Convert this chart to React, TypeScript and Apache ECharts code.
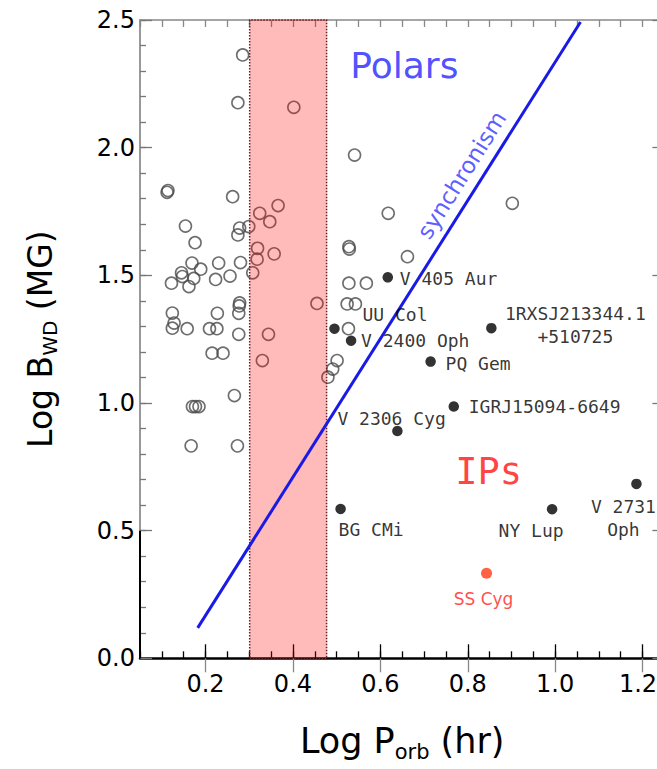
import React, { useEffect, useRef } from 'react';
import * as echarts from 'echarts';

// ---- Data (log P_orb [hr], log B_WD [MG]) ----
// Polars (open circles)
const polarLogP = [
  0.112, 0.114, 0.262, 0.154, 0.176, 0.278, 0.274, 0.299, 0.324, 0.347,
  0.366, 0.319, 0.318, 0.357, 0.308, 0.280, 0.256, 0.230, 0.223, 0.169,
  0.189, 0.145, 0.147, 0.122, 0.162, 0.173, 0.285, 0.274, 0.402, 0.541,
  0.618, 0.902, 0.528, 0.529, 0.662, 0.528, 0.568, 0.455, 0.524, 0.543,
  0.527, 0.278, 0.277, 0.124, 0.227, 0.276, 0.128, 0.124, 0.158, 0.209,
  0.226, 0.276, 0.344, 0.215, 0.240, 0.330, 0.501, 0.491, 0.480, 0.266,
  0.170, 0.177, 0.185, 0.167, 0.273,
];
const polarLogB = [
  1.825, 1.832, 1.808, 1.693, 1.628, 1.685, 1.658, 1.691, 1.743, 1.710,
  1.773, 1.606, 1.563, 1.584, 1.510, 1.550, 1.497, 1.548, 1.484, 1.548,
  1.524, 1.510, 1.495, 1.469, 1.456, 1.488, 2.363, 2.176, 2.158, 1.971,
  1.743, 1.782, 1.612, 1.603, 1.573, 1.469, 1.469, 1.390, 1.388, 1.388,
  1.291, 1.392, 1.380, 1.352, 1.351, 1.351, 1.313, 1.293, 1.291, 1.291,
  1.291, 1.269, 1.269, 1.195, 1.195, 1.166, 1.166, 1.133, 1.101, 1.029,
  0.986, 0.986, 0.986, 0.832, 0.832,
];

// Intermediate polars (filled circles)
const ipNames = [
  'V 405 Aur', 'UU Col', 'V 2400 Oph', '1RXSJ213344.1\n+510725', 'PQ Gem',
  'IGRJ15094-6649', 'V 2306 Cyg', 'BG CMi', 'NY Lup', 'V 2731\nOph',
];
const ipLogP = [0.617, 0.495, 0.533, 0.854, 0.715, 0.768, 0.639, 0.509, 0.993, 1.186];
const ipLogB = [1.492, 1.291, 1.244, 1.293, 1.162, 0.986, 0.890, 0.585, 0.584, 0.683];

// Dwarf nova
const dnNames = ['SS Cyg'];
const dnLogP = [0.843];
const dnLogB = [0.333];

// Period gap (2-3 hr)
const gapLogP = [0.301, 0.477];

// Synchronism line
const syncLogP = [0.182, 1.058];
const syncLogB = [0.119, 2.492];

// Region annotations
const regionNames = ['Polars', 'IPs', 'synchronism'];
const regionLogP = [0.655, 0.848, 0.786];
const regionLogB = [2.32, 0.73, 1.893];

// Axes
const xMin = 0.05;
const xMax = 1.25;
const xMajorTicks = [0.2, 0.4, 0.6, 0.8, 1.0, 1.2];
const yMin = 0;
const yMax = 2.5;
const yMajorTicks = [0, 0.5, 1.0, 1.5, 2.0, 2.5];
const yDarkAxisPart = [0, 0.5];

// ---- label placement (pixels relative to the marker) ----
const ipLabelPlace: Record<string, { align: string; dx: number; dy: number }> = {
  'V 405 Aur': { align: 'left', dx: 12, dy: 1 },
  'UU Col': { align: 'left', dx: 28, dy: -14 },
  'V 2400 Oph': { align: 'left', dx: 10, dy: 0 },
  '1RXSJ213344.1\n+510725': { align: 'center', dx: 84, dy: -3 },
  'PQ Gem': { align: 'left', dx: 15, dy: 2 },
  'IGRJ15094-6649': { align: 'left', dx: 15, dy: 0 },
  'V 2306 Cyg': { align: 'left', dx: -60, dy: -13 },
  'BG CMi': { align: 'left', dx: -2, dy: 21 },
  'NY Lup': { align: 'center', dx: -21, dy: 21 },
  'V 2731\nOph': { align: 'center', dx: -13, dy: 34 },
};

const regionStyle: Record<string, any> = {
  Polars: { fontSize: 36, color: '#2222ff', fontFamily: 'DejaVu Sans', rotate: 0 },
  IPs: { fontSize: 37, color: '#ff1010', fontFamily: 'DejaVu Sans Mono', rotate: 0 },
  synchronism: { fontSize: 23, color: '#3333ff', fontFamily: 'DejaVu Sans', rotate: 57.7 },
};

const SANS = 'DejaVu Sans';
const MONO = 'DejaVu Sans Mono';

const isMultiple = (v: number, step: number) => Math.abs(v / step - Math.round(v / step)) < 1e-6;

export default function App() {
  const ref = useRef<HTMLDivElement>(null);

  useEffect(() => {
    if (!ref.current) return;
    const chart = echarts.init(ref.current, undefined, { renderer: 'svg' });

    const gridLeft = 140;
    const gridTop = 20;
    const pxPerX = 437;
    const gridWidth = (xMax - xMin) * pxPerX;
    const gridHeight = 638.3;
    const lastXTick = xMajorTicks[xMajorTicks.length - 1];

    const minorX = (position: 'bottom' | 'top', lineColor: string, lineWidth: number, withLabels: boolean) => ({
      type: 'value',
      position,
      min: xMin,
      max: xMax,
      interval: 0.05,
      axisLine: { show: true, onZero: false, lineStyle: { color: lineColor, width: lineWidth } },
      axisTick: { show: true, inside: true, length: 7, lineStyle: { color: lineColor, width: 1.3 } },
      axisLabel: withLabels
        ? {
            show: true,
            fontSize: 24,
            fontFamily: SANS,
            color: '#000',
            margin: 14,
            formatter: (v: number) => {
              if (!(v > 0.15 && isMultiple(v, 0.2))) return '';
              if (Math.abs(v - lastXTick) < 1e-6) return '{edge|' + v.toFixed(1) + '}';
              return v.toFixed(1);
            },
            rich: {
              edge: { fontSize: 24, fontFamily: SANS, color: '#000', padding: [0, 9, 0, 0] },
            },
          }
        : { show: false },
      splitLine: { show: false },
    });
    const majorX = (position: 'bottom' | 'top', color: string) => ({
      type: 'value',
      position,
      min: xMin,
      max: xMax,
      axisLine: { show: false },
      axisTick: { show: true, inside: true, length: 14, customValues: xMajorTicks, lineStyle: { color, width: 1.3 } },
      axisLabel: { show: false },
      splitLine: { show: false },
    });
    const minorY = (position: 'left' | 'right', lineColor: string, withLabels: boolean) => ({
      type: 'value',
      position,
      min: yMin,
      max: yMax,
      interval: 0.1,
      axisLine: { show: true, onZero: false, lineStyle: { color: lineColor, width: 1.5 } },
      axisTick: { show: true, inside: true, length: 6, lineStyle: { color: lineColor, width: 1.3 } },
      axisLabel: withLabels
        ? {
            show: true,
            fontSize: 24,
            fontFamily: SANS,
            color: '#000',
            margin: 5,
            formatter: (v: number) => (isMultiple(v, 0.5) ? v.toFixed(1) : ''),
          }
        : { show: false },
      splitLine: { show: false },
    });
    const majorY = (position: 'left' | 'right', color: string) => ({
      type: 'value',
      position,
      min: yMin,
      max: yMax,
      axisLine: { show: false },
      axisTick: { show: true, inside: true, length: 12, customValues: yMajorTicks, lineStyle: { color, width: 1.3 } },
      axisLabel: { show: false },
      splitLine: { show: false },
    });

    const xBottom: any = minorX('bottom', '#000', 2.5, true);
    xBottom.name = 'Log P{sub|orb} (hr)';
    xBottom.nameLocation = 'middle';
    xBottom.nameGap = 62;
    xBottom.nameTextStyle = {
      fontSize: 35,
      fontFamily: SANS,
      color: '#000',
      lineHeight: 42,
      rich: { sub: { fontSize: 21, fontFamily: SANS, color: '#000', lineHeight: 42, verticalAlign: 'bottom' } },
    };

    const yLeft: any = minorY('left', '#777', true);
    yLeft.name = 'Log B{sub|WD} (MG)';
    yLeft.nameLocation = 'middle';
    yLeft.nameGap = 80;
    yLeft.nameRotate = 90;
    yLeft.nameTextStyle = {
      fontSize: 33,
      fontFamily: SANS,
      color: '#000',
      lineHeight: 40,
      rich: { sub: { fontSize: 20, fontFamily: SANS, color: '#000', lineHeight: 40, verticalAlign: 'bottom' } },
    };

    const polarData = polarLogP.map((p, i) => [p, polarLogB[i]]);
    const ipData = ipNames.map((n, i) => {
      const pl = ipLabelPlace[n];
      return {
        name: n,
        value: [ipLogP[i], ipLogB[i]],
        label: {
          show: true,
          position: 'inside',
          align: pl.align,
          verticalAlign: 'middle',
          offset: [pl.dx, pl.dy],
        },
      };
    });
    const dnData = dnNames.map((n, i) => ({ name: n, value: [dnLogP[i], dnLogB[i]] }));
    const regionData = regionNames.map((n, i) => {
      const s = regionStyle[n];
      return {
        name: n,
        value: [regionLogP[i], regionLogB[i]],
        label: {
          show: true,
          position: 'inside',
          align: 'center',
          verticalAlign: 'middle',
          rotate: s.rotate,
          fontSize: s.fontSize,
          fontFamily: s.fontFamily,
          color: s.color,
        },
      };
    });

    chart.setOption({
      animation: false,
      backgroundColor: '#fff',
      grid: {
        left: gridLeft,
        top: gridTop,
        width: gridWidth,
        height: gridHeight,
        containLabel: false,
        outerBoundsMode: 'none',
      },
      xAxis: [xBottom, majorX('bottom', '#000'), minorX('top', '#888', 1.5, false), majorX('top', '#888')],
      yAxis: [yLeft, majorY('left', '#777'), minorY('right', '#777', false), majorY('right', '#777')],
      series: [
        {
          type: 'scatter',
          name: 'Polars',
          z: 2,
          symbol: 'circle',
          symbolSize: 12,
          itemStyle: { color: 'rgba(0,0,0,0)', borderColor: '#4a4a4a', borderWidth: 1.6 },
          emphasis: { disabled: true },
          silent: true,
          data: polarData,
        },
        {
          type: 'scatter',
          name: 'gap',
          z: 3,
          silent: true,
          data: [],
          markArea: {
            z: 3,
            silent: true,
            itemStyle: {
              color: 'rgba(255,0,0,0.27)',
              borderColor: '#6a2020',
              borderWidth: 1.5,
              borderType: 'dotted',
            },
            data: [[{ xAxis: gapLogP[0] }, { xAxis: gapLogP[1] }]],
          },
          markLine: {
            z: 3,
            silent: true,
            symbol: 'none',
            label: { show: false },
            lineStyle: { color: '#000', width: 2, type: 'solid' },
            data: [[{ coord: [xMin, yDarkAxisPart[0]] }, { coord: [xMin, yDarkAxisPart[1]] }]],
          },
        },
        {
          type: 'line',
          name: 'synchronism',
          z: 4,
          symbol: 'none',
          silent: true,
          lineStyle: { color: '#1a1ae6', width: 3 },
          data: syncLogP.map((p, i) => [p, syncLogB[i]]),
        },
        {
          type: 'scatter',
          name: 'IPs',
          z: 5,
          symbol: 'circle',
          symbolSize: 10.5,
          itemStyle: { color: '#000' },
          emphasis: { disabled: true },
          silent: true,
          label: {
            show: true,
            formatter: '{b}',
            fontFamily: MONO,
            fontSize: 18,
            lineHeight: 23,
            color: '#000',
          },
          data: ipData,
        },
        {
          type: 'scatter',
          name: 'DN',
          z: 5,
          symbol: 'circle',
          symbolSize: 11,
          itemStyle: { color: '#ff3a14' },
          emphasis: { disabled: true },
          silent: true,
          label: {
            show: true,
            formatter: '{b}',
            position: 'inside',
            align: 'center',
            verticalAlign: 'middle',
            offset: [-3, 26],
            fontFamily: SANS,
            fontSize: 17,
            color: '#ff2020',
          },
          data: dnData,
        },
        {
          type: 'scatter',
          name: 'regions',
          z: 6,
          symbol: 'circle',
          symbolSize: 1,
          itemStyle: { color: 'rgba(0,0,0,0)' },
          emphasis: { disabled: true },
          silent: true,
          label: { show: true, formatter: '{b}' },
          data: regionData,
        },
      ],
    });

    return () => chart.dispose();
  }, []);

  return (
    <div
      ref={ref}
      style={{ position: 'absolute', left: 0, top: 0, width: 657, height: 769, background: '#fff' }}
    />
  );
}
